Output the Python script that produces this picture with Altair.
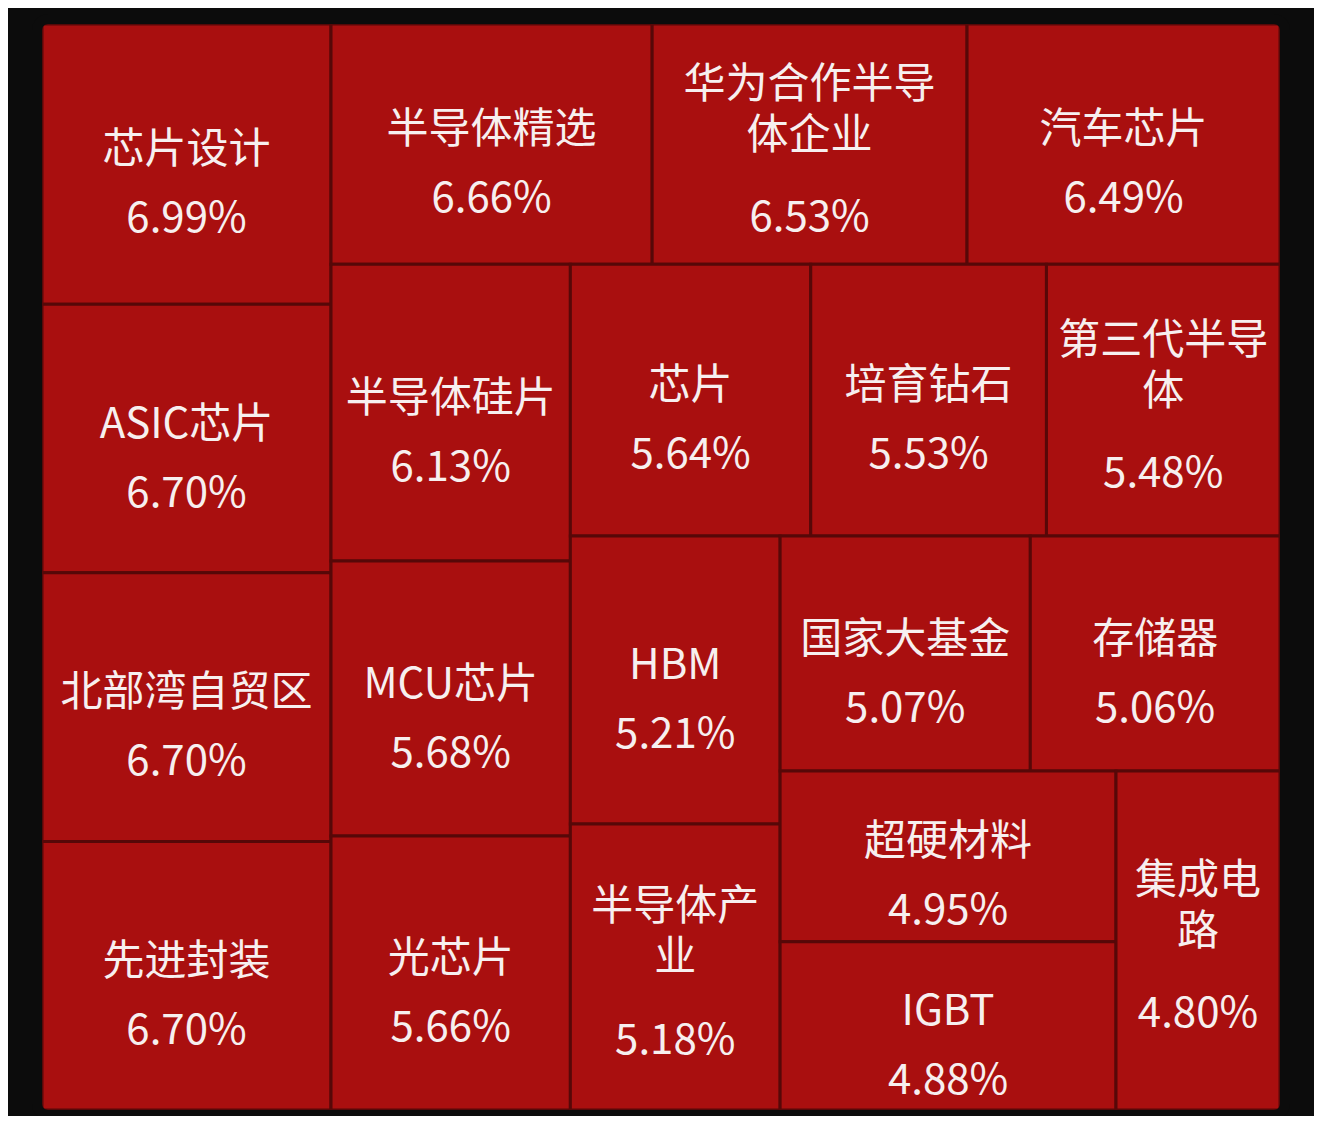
import altair as alt
import pandas as pd

# ---- data ----
names = ["芯片设计", "ASIC芯片", "北部湾自贸区", "先进封装", "半导体精选",
         "华为合作半导\n体企业", "汽车芯片", "半导体硅片", "MCU芯片", "光芯片",
         "芯片", "培育钻石", "第三代半导\n体", "HBM", "半导体产\n业",
         "国家大基金", "存储器", "超硬材料", "IGBT", "集成电\n路"]
changes = [6.99, 6.70, 6.70, 6.70, 6.66,
           6.53, 6.49, 6.13, 5.68, 5.66,
           5.64, 5.53, 5.48, 5.21, 5.18,
           5.07, 5.06, 4.95, 4.88, 4.80]

# ---- canvas / layout parameters ----
W, H = 1306, 1108
BOX = (34, 16, 1272, 1102)  # treemap container in pixel units
BG = "#0c0c0c"
FILL = "#a90f0f"
EDGE = "#560808"
TXT = "#f7efef"


def squarify(values, x0, y0, x1, y1, ratio=1.0):
    """Squarified treemap (Bruls et al., as in d3.treemapSquarify)."""
    n = len(values)
    out = [None] * n
    value = float(sum(values))
    i0 = i1 = 0
    while i0 < n:
        dx, dy = x1 - x0, y1 - y0
        sumv = values[i1]
        i1 += 1
        minv = maxv = sumv
        alpha = max(dy / dx, dx / dy) / (value * ratio)
        beta = sumv * sumv * alpha
        minr = max(maxv / beta, beta / minv)
        while i1 < n:
            v = values[i1]
            s = sumv + v
            mn, mx = min(minv, v), max(maxv, v)
            beta = s * s * alpha
            r = max(mx / beta, beta / mn)
            if r > minr:
                break
            sumv, minv, maxv, minr = s, mn, mx, r
            i1 += 1
        if dx < dy:
            h = dy * sumv / value
            xx = x0
            for i in range(i0, i1):
                w = dx * values[i] / sumv
                out[i] = (xx, y0, xx + w, y0 + h)
                xx += w
            y0 += h
        else:
            w = dx * sumv / value
            yy = y0
            for i in range(i0, i1):
                h = dy * values[i] / sumv
                out[i] = (x0, yy, x0 + w, yy + h)
                yy += h
            x0 += w
        value -= sumv
        i0 = i1
    return out


rects = squarify(changes, *BOX)
df = pd.DataFrame({
    "name": names,
    "value": changes,
    "x0": [r[0] for r in rects],
    "y0": [r[1] for r in rects],
    "x1": [r[2] for r in rects],
    "y1": [r[3] for r in rects],
})
df["pct"] = [f"{v:.2f}%" for v in df["value"]]
df["cx"] = (df["x0"] + df["x1"]) / 2
df["cy"] = (df["y0"] + df["y1"]) / 2
df["lines"] = [s.count("\n") + 1 for s in df["name"]]
df["ny"] = df["cy"] - 14 - (df["lines"] - 1) * 45.5
df["py"] = df["cy"] + 55 + (df["lines"] - 1) * 19

frame = pd.DataFrame({"x0": [BOX[0] - 5], "y0": [BOX[1] - 5],
                      "x1": [BOX[2] + 5], "y1": [BOX[3] + 5]})

xs = alt.Scale(domain=[0, W], nice=False, zero=False)
ys = alt.Scale(domain=[0, H], nice=False, zero=False, reverse=True)

cells = alt.Chart(df).mark_rect(fill=FILL, stroke=EDGE, strokeWidth=3).encode(
    x=alt.X("x0:Q", scale=xs, axis=None),
    x2="x1:Q",
    y=alt.Y("y0:Q", scale=ys, axis=None),
    y2="y1:Q",
)

corners = alt.Chart(frame).mark_rect(
    fill=None, fillOpacity=0, stroke=BG, strokeWidth=10, cornerRadius=11
).encode(
    x=alt.X("x0:Q", scale=xs, axis=None),
    x2="x1:Q",
    y=alt.Y("y0:Q", scale=ys, axis=None),
    y2="y1:Q",
)

name_text = alt.Chart(df).mark_text(
    font="Noto Sans CJK SC", fontSize=42, color=TXT, align="center",
    baseline="middle", lineBreak="\n", lineHeight=51
).encode(
    x=alt.X("cx:Q", scale=xs, axis=None),
    y=alt.Y("ny:Q", scale=ys, axis=None),
    text="name:N",
)

pct_text = alt.Chart(df).mark_text(
    font="Noto Sans CJK SC", fontSize=42, color=TXT, align="center",
    baseline="middle"
).encode(
    x=alt.X("cx:Q", scale=xs, axis=None),
    y=alt.Y("py:Q", scale=ys, axis=None),
    text="pct:N",
)

chart = alt.layer(cells, corners, name_text, pct_text).properties(
    width=W, height=H, padding=0, autosize="none", background=BG
).configure_view(stroke=None)

chart.save("out.html", embed_options={"renderer": "svg", "actions": False})
